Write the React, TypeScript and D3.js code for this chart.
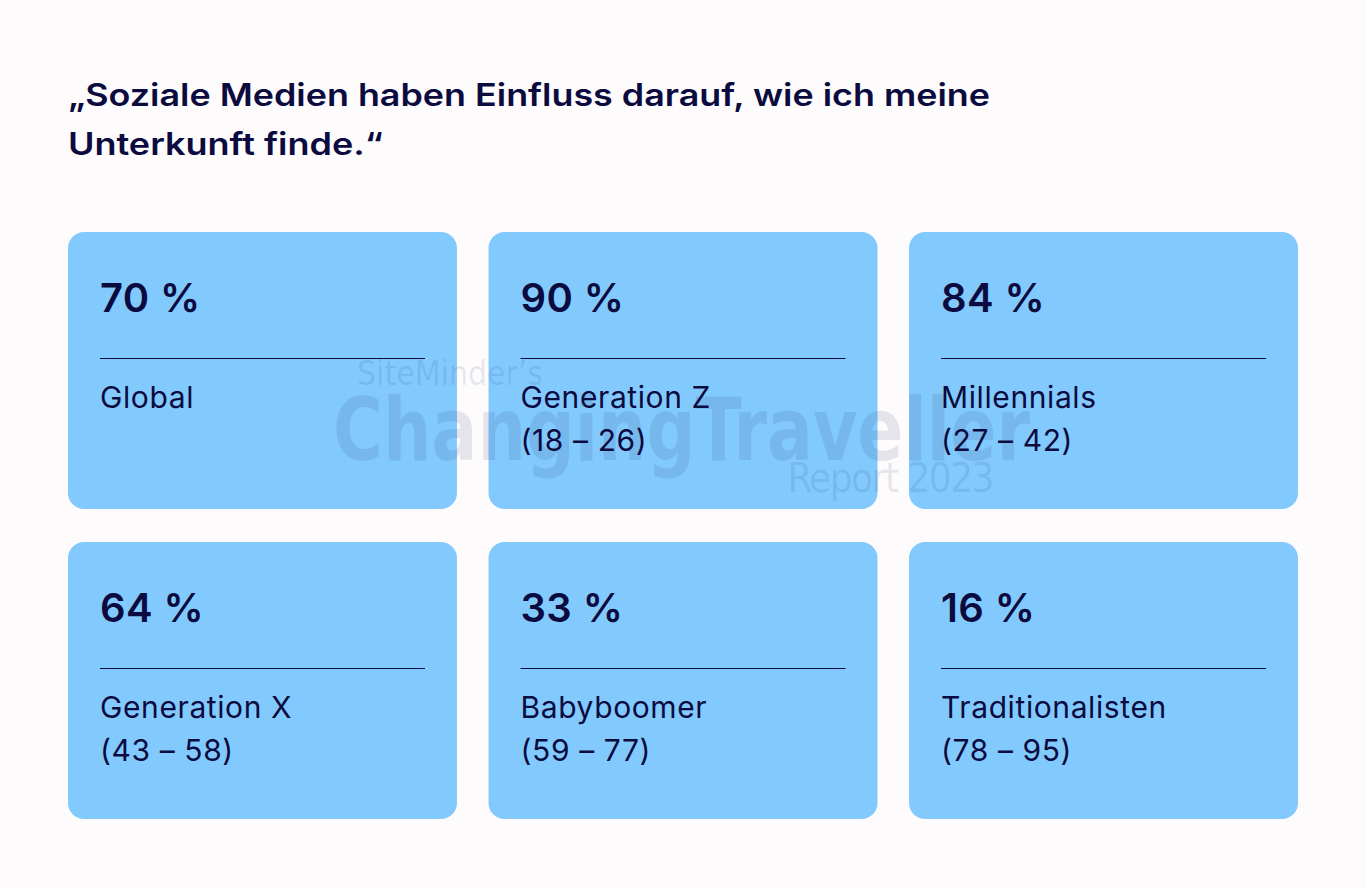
import * as d3 from "d3";
import { useEffect } from "react";

const W = 1366;
const H = 888;

// card contents
const values = [70, 90, 84, 64, 33, 16];
const groups = ["Global", "Generation Z", "Millennials", "Generation X", "Babyboomer", "Traditionalisten"];
const ranges = ["", "(18 – 26)", "(27 – 42)", "(43 – 58)", "(59 – 77)", "(78 – 95)"];
const titleLines = ["„Soziale Medien haben Einfluss darauf, wie ich meine", "Unterkunft finde.“"];
const titleWidths = [922, 315];

const cols = [0, 1, 2];
const rows = [0, 1];

const navy = "#0b0b3f";
const cardFill = "#82cafd";
const font = "Inter, 'Noto Sans', sans-serif";
const wmFont = "'Liberation Sans Narrow', 'DejaVu Sans Condensed', sans-serif";

export default function App() {
  useEffect(() => {
    document.body.style.margin = "0";
    document.body.style.background = "#fdfbfc";
  }, []);

  const x = d3.scaleBand<number>().domain(cols).range([68, 1298]).paddingInner(0.075);
  const y = d3.scaleBand<number>().domain(rows).range([232, 819]).paddingInner(0.1065);

  const cards = values.map((v, i) => ({
    v,
    group: groups[i],
    range: ranges[i],
    x: x(i % 3)!,
    y: y(Math.floor(i / 3))!,
  }));

  return (
    <svg width={W} height={H} style={{ display: "block" }} fontFamily={font}>
      <rect width={W} height={H} fill="#fdfbfc" />
      <g fill={navy} fontSize={31} fontWeight={600}>
        {titleLines.map((t, i) => (
          <text key={i} x={68} y={106 + i * 49} textLength={titleWidths[i]} lengthAdjust="spacingAndGlyphs">
            {t}
          </text>
        ))}
      </g>
      {cards.map((c, i) => (
        <g key={i} transform={`translate(${c.x},${c.y})`}>
          <rect width={x.bandwidth()} height={y.bandwidth()} rx={16} fill={cardFill} />
          <text x={32} y={80} fontSize={40} fontWeight={600} letterSpacing={0.4} fill={navy}>
            {`${c.v} %`}
          </text>
          <line x1={32} x2={x.bandwidth() - 32} y1={126.5} y2={126.5} stroke={navy} strokeWidth={1} />
          <text x={32} y={176} fontSize={30} letterSpacing={0.6} fill={navy}>
            {c.group}
          </text>
          {c.range && (
            <text x={32} y={219} fontSize={30} letterSpacing={0.6} fill={navy}>
              {c.range}
            </text>
          )}
        </g>
      ))}
      {/* watermark */}
      <g fill="#1a1a5a" fillOpacity={0.1} fontFamily={wmFont}>
        <text x={357} y={385} fontSize={34} textLength={186} lengthAdjust="spacingAndGlyphs">
          SiteMinder’s
        </text>
        <text x={333} y={460} fontSize={88} fontWeight={700} textLength={697} lengthAdjust="spacingAndGlyphs">
          ChangingTraveller
        </text>
        <text x={993} y={492} fontSize={40} textAnchor="end" letterSpacing={-1.5}>
          Report 2023
        </text>
      </g>
    </svg>
  );
}
